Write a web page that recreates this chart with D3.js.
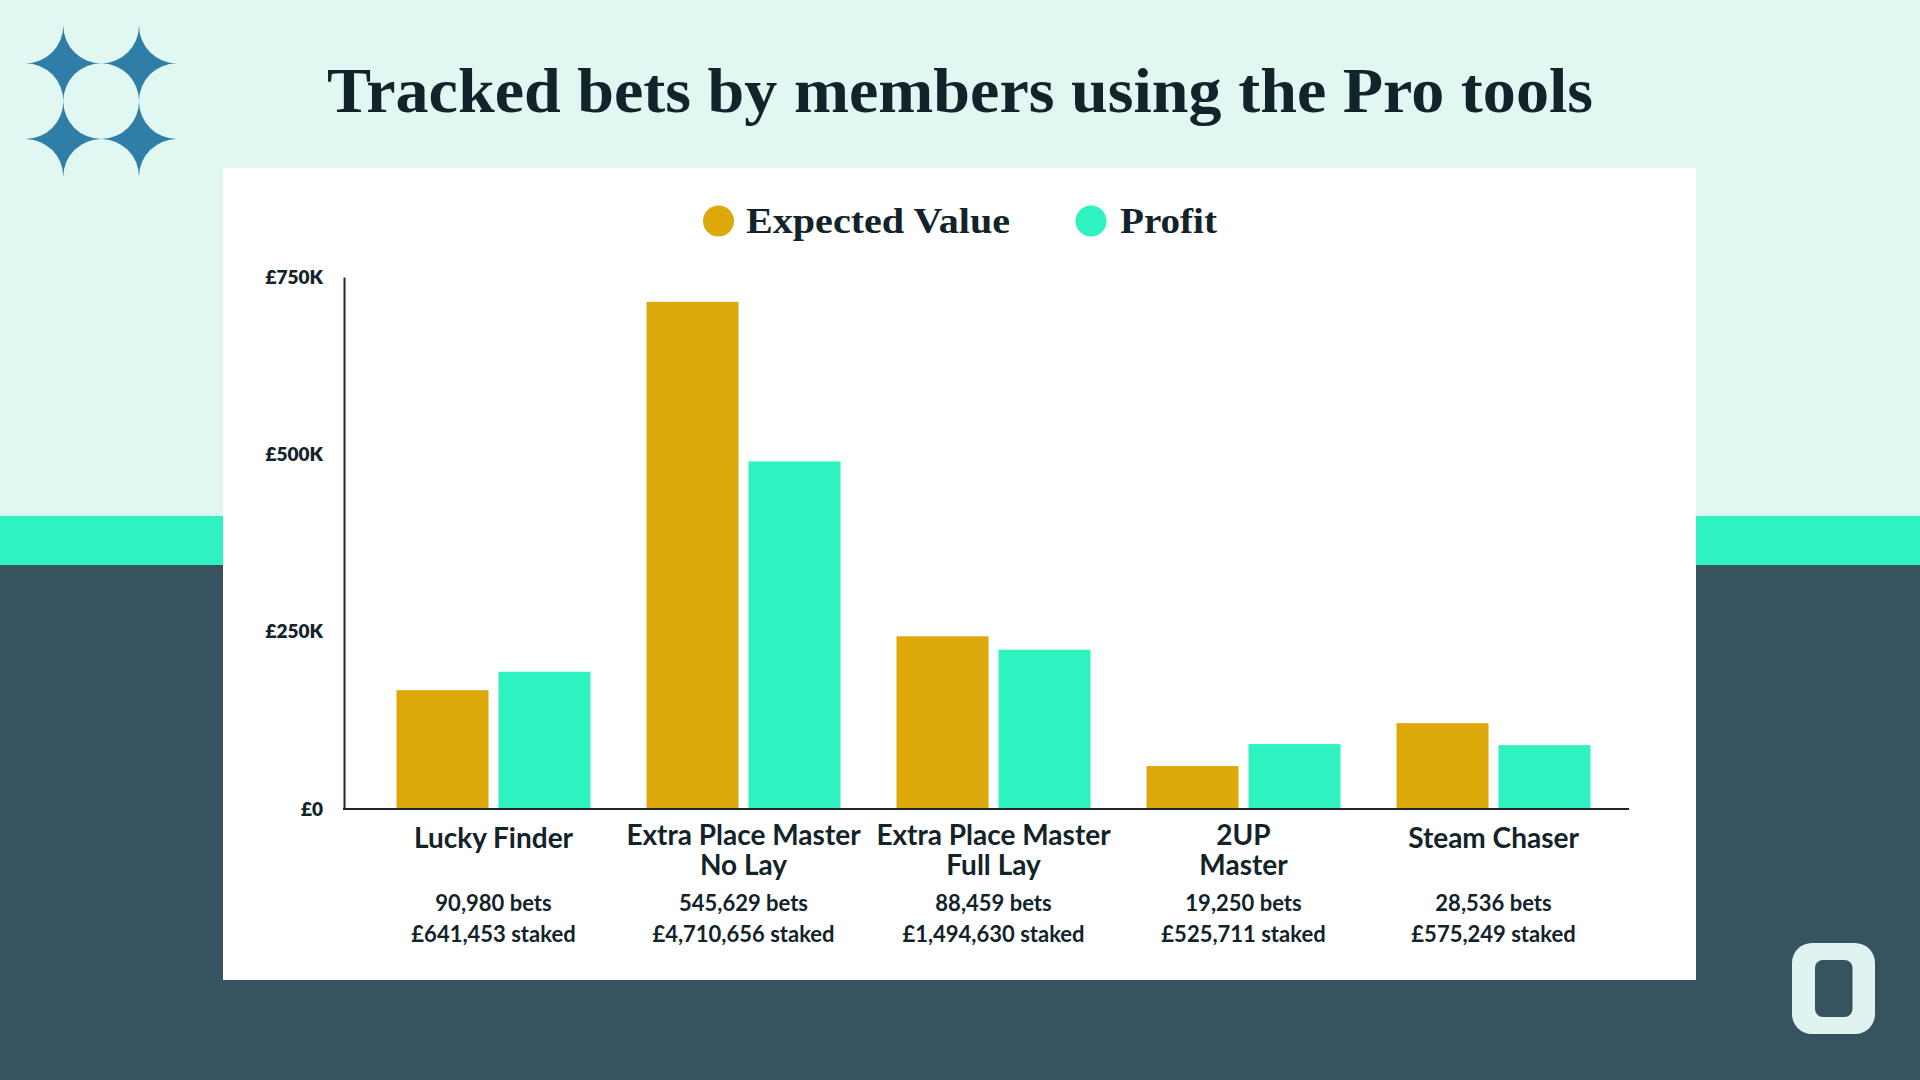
<!DOCTYPE html>
<html>
<head>
<meta charset="utf-8">
<script src="https://cdn.jsdelivr.net/npm/d3@7"></script>
<style>
  html, body { margin: 0; padding: 0; background: #36535F; }
  svg { display: block; }
</style>
</head>
<body>
<svg id="chart" width="1920" height="1080"></svg>
<script>
// ---------- data ----------
const categories = ["Lucky Finder", "Extra Place Master\nNo Lay", "Extra Place Master\nFull Lay", "2UP\nMaster", "Steam Chaser"];
const seriesNames = ["Expected Value", "Profit"];
const expectedValue = [167500, 715000, 243500, 60500, 121000];
const profit = [193500, 490000, 224500, 91500, 90000];
const betsLabels = ["90,980 bets", "545,629 bets", "88,459 bets", "19,250 bets", "28,536 bets"];
const stakedLabels = ["£641,453 staked", "£4,710,656 staked", "£1,494,630 staked", "£525,711 staked", "£575,249 staked"];
const yTickValues = [0, 250000, 500000, 750000];
const yTickLabels = ["£0", "£250K", "£500K", "£750K"];
const titleText = "Tracked bets by members using the Pro tools";

// ---------- styles ----------
const C = {
  mint: "#E0F7F2", aqua: "#2EF2C0", dark: "#36535F", white: "#FFFFFF",
  gold: "#DDA809", text: "#13232A", star: "#2F7EA8", logo: "#DFF4F0"
};
const serif = "'Liberation Serif', 'DejaVu Serif', serif";
const sans = "Lato, 'Open Sans', sans-serif";
const colors = [C.gold, C.aqua];

const svg = d3.select("#chart");

// ---------- background ----------
svg.append("rect").attr("x", 0).attr("y", 0).attr("width", 1920).attr("height", 1080).attr("fill", C.dark);
svg.append("rect").attr("x", 0).attr("y", 0).attr("width", 1920).attr("height", 516).attr("fill", C.mint);
svg.append("rect").attr("x", 0).attr("y", 516).attr("width", 1920).attr("height", 49).attr("fill", C.aqua);

// star logo
const starG = svg.append("g").attr("fill", C.star);
const r = 37.8;
[[63.3, 63.3], [139, 63.3], [63.3, 139], [139, 139]].forEach(([cx, cy]) => {
  const p = `M${cx},${cy - r} A${r},${r} 0 0 0 ${cx + r},${cy} A${r},${r} 0 0 0 ${cx},${cy + r} A${r},${r} 0 0 0 ${cx - r},${cy} A${r},${r} 0 0 0 ${cx},${cy - r} Z`;
  starG.append("path").attr("d", p);
});

// bottom-right logo
svg.append("rect").attr("x", 1792).attr("y", 943).attr("width", 83).attr("height", 91).attr("rx", 20).attr("fill", C.logo);
svg.append("rect").attr("x", 1815).attr("y", 960).attr("width", 37.5).attr("height", 57).attr("rx", 8).attr("fill", C.dark);

// title
svg.append("text")
  .attr("x", 960).attr("y", 112)
  .attr("text-anchor", "middle")
  .attr("font-family", serif).attr("font-weight", 700).attr("font-size", 64)
  .attr("fill", C.text)
  .attr("textLength", 1266).attr("lengthAdjust", "spacingAndGlyphs")
  .text(titleText);

// card
svg.append("rect").attr("x", 223).attr("y", 168).attr("width", 1473).attr("height", 812).attr("fill", C.white);

// legend
const legendItems = [
  { name: seriesNames[0], color: colors[0], cx: 718.5, tx: 746, w: 264 },
  { name: seriesNames[1], color: colors[1], cx: 1091, tx: 1120, w: 97 }
];
legendItems.forEach(d => {
  svg.append("circle").attr("cx", d.cx).attr("cy", 221).attr("r", 15.5).attr("fill", d.color);
  svg.append("text").attr("x", d.tx).attr("y", 233)
    .attr("font-family", serif).attr("font-weight", 700).attr("font-size", 36)
    .attr("fill", C.text)
    .attr("textLength", d.w).attr("lengthAdjust", "spacingAndGlyphs")
    .text(d.name);
});

// ---------- scales ----------
const y = d3.scaleLinear().domain([0, 750000]).range([809, 277]);
const x0 = d3.scaleBand().domain(categories).range([368.5, 1618.5]).paddingInner(0.224).paddingOuter(0.112);
const x1 = d3.scaleBand().domain(seriesNames).range([0, x0.bandwidth()]).paddingInner(0.098);

const rows = categories.map((c, i) => ({ cat: c, values: [expectedValue[i], profit[i]] }));

// bars
const groups = svg.append("g").selectAll("g").data(rows).join("g")
  .attr("transform", d => `translate(${x0(d.cat)},0)`);
groups.selectAll("rect").data(d => d.values.map((v, j) => ({ key: seriesNames[j], v, j })))
  .join("rect")
  .attr("x", d => x1(d.key))
  .attr("y", d => y(d.v))
  .attr("width", x1.bandwidth())
  .attr("height", d => y(0) - y(d.v))
  .attr("fill", d => colors[d.j]);

// y axis
const yAxis = d3.axisLeft(y).tickValues(yTickValues)
  .tickFormat((d, i) => yTickLabels[i]).tickSize(0).tickPadding(21);
const yg = svg.append("g").attr("transform", "translate(344,0)").call(yAxis);
yg.select(".domain").attr("stroke", "#1B262C").attr("stroke-width", 2);
yg.selectAll("text").attr("font-family", sans).attr("font-weight", 800).attr("font-size", 19).attr("fill", C.text);

// x baseline
svg.append("line").attr("x1", 343).attr("x2", 1629).attr("y1", y(0)).attr("y2", y(0))
  .attr("stroke", "#1B262C").attr("stroke-width", 2);

// category labels
const labelG = svg.append("g").attr("font-family", sans).attr("fill", C.text).attr("text-anchor", "middle");
rows.forEach((d, i) => {
  const cx = x0(d.cat) + x0.bandwidth() / 2;
  const lines = d.cat.split("\n");
  const t = labelG.append("text").attr("font-size", 28).attr("font-weight", 700);
  lines.forEach((ln, k) => {
    t.append("tspan").attr("x", cx).attr("y", (lines.length === 1 ? 848 : 845) + k * 29.5).text(ln);
  });
  labelG.append("text").attr("x", cx).attr("y", 911).attr("font-size", 22).attr("font-weight", 700).text(betsLabels[i]);
  labelG.append("text").attr("x", cx).attr("y", 942).attr("font-size", 22).attr("font-weight", 700).text(stakedLabels[i]);
});
</script>
</body>
</html>
